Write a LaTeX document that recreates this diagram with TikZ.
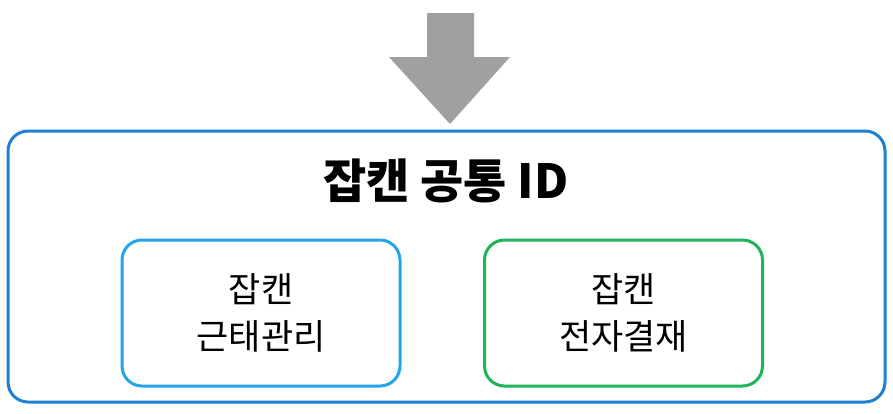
\documentclass[tikz,border=0pt]{standalone}
\usepackage{fontspec}
\setmainfont{Noto Sans CJK KR}
\definecolor{outerblue}{HTML}{1F80D2}
\definecolor{skyblue}{HTML}{22A6E8}
\definecolor{okgreen}{HTML}{1DB45A}
\definecolor{arrowgray}{HTML}{A0A0A0}
\tikzset{
  roundbox/.style={draw,line width=3pt,rounded corners=20pt,fill=white},
  innerbox/.style={roundbox,minimum width=278pt,minimum height=146pt,
    align=center,font=\fontsize{35}{47}\selectfont}
}
\begin{document}
\begin{tikzpicture}[x=1pt,y=-1pt]
            \useasboundingbox (0,0) rectangle (893,413);
            \fill[arrowgray] (427,13) -- (474,13) -- (474,57) -- (510,57)
                -- (450,124) -- (389,57) -- (427,57) -- cycle;
        %
            \node[roundbox,draw=outerblue,minimum width=877pt,minimum height=271pt] (common) at (446.5,266.5) {};
            \node[font=\fontsize{47}{52}\selectfont\bfseries] (title) at (446,181) {잡캔 공통 ID};
            \node[innerbox,draw=skyblue] (attend) at (261,313) {잡캔\\근태관리};
            \node[innerbox,draw=okgreen] (approval) at (623.5,313) {잡캔\\전자결재};
        \end{tikzpicture}
\end{document}
